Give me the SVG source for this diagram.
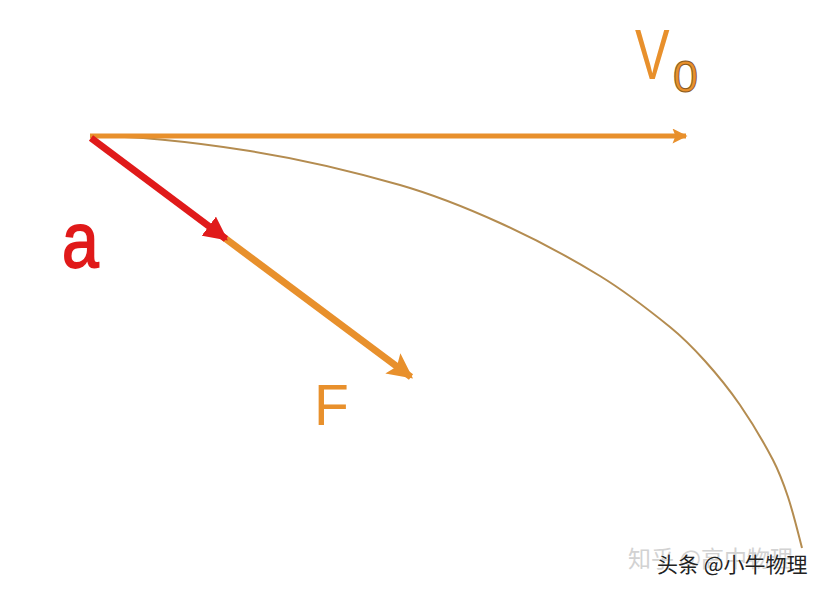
<svg xmlns="http://www.w3.org/2000/svg" width="826" height="592" viewBox="0 0 826 592">
  <style>
    .orange { stroke: #E8902C; fill: none; }
    .red { stroke: #E01A1A; fill: none; }
    .lbl { font-family: "Liberation Sans", Arial, sans-serif; }
    .wm { font-family: "Noto Sans CJK SC", sans-serif; }
  </style>
  <defs>
    <marker id="headOrange" viewBox="0 0 10 10" refX="9" refY="5" markerWidth="4" markerHeight="3" markerUnits="strokeWidth" orient="auto">
      <path d="M0,0 L10,5 L0,10 L2,5 Z" fill="#E8902C"/>
    </marker>
    <marker id="headOrangeBig" viewBox="0 0 10 10" refX="9" refY="5" markerWidth="4" markerHeight="3.6" markerUnits="strokeWidth" orient="auto">
      <path d="M0,0 L10,5 L0,10 L2,5 Z" fill="#E8902C"/>
    </marker>
    <marker id="headRed" viewBox="0 0 10 10" refX="9" refY="5" markerWidth="3.4" markerHeight="3.4" markerUnits="strokeWidth" orient="auto">
      <path d="M0,0 L10,5 L0,10 Z" fill="#E01A1A"/>
    </marker>
  </defs>
  <rect width="826" height="592" fill="#ffffff"/>

  <g id="connectors">
    <path id="trajectory" d="M90,136 C143.6,136 197,142.6 250,151 C300.7,159 350.7,170.8 400,185 C434.3,194.9 467.5,208.2 500,223 C534.3,238.6 567.8,256.3 600,276 C624.7,291.1 647.5,308.8 670,327 C682.7,337.3 694.1,348.9 705,361 C717.5,374.9 729.4,389.6 740,405 C752.1,422.6 763.1,441 773,460 C779.1,471.8 783.8,484.4 788,497 C793.5,513.7 797.6,531 802,548" stroke="#B48C50" stroke-width="2" fill="none"/>
    <line id="v0-arrow" class="orange" x1="90" y1="136" x2="686" y2="136" stroke-width="5" marker-end="url(#headOrange)"/>
    <line id="f-arrow" class="orange" x1="222" y1="236" x2="411" y2="377" stroke-width="7" marker-end="url(#headOrangeBig)"/>
    <line id="a-arrow" class="red" x1="91" y1="138" x2="226" y2="239" stroke-width="7" marker-end="url(#headRed)"/>
  </g>

  <g id="label-v0">
    <text class="lbl" transform="translate(635,79) scale(0.74,1)" font-size="70" fill="#E8902C">V</text>
    <text class="lbl" x="673" y="92" font-size="45" fill="#E8902C" stroke="#8a5a20" stroke-width="1">0</text>
  </g>
  <g id="label-a">
    <text class="lbl" transform="translate(62,267) scale(1,1.18)" font-size="66" fill="#E01A1A" stroke="#E01A1A" stroke-width="1.5">a</text>
  </g>
  <g id="label-f">
    <text class="lbl" x="314" y="425" font-size="57" fill="#E8902C">F</text>
  </g>

  <g id="watermark">
    <text class="wm" x="628" y="567" font-size="23" fill="#d2d2d2">知乎 @高中物理</text>
    <text class="wm" x="657" y="572" font-size="21" fill="#222222" stroke="#ffffff" stroke-width="0.6" paint-order="stroke">头条 @小牛物理</text>
  </g>
</svg>
